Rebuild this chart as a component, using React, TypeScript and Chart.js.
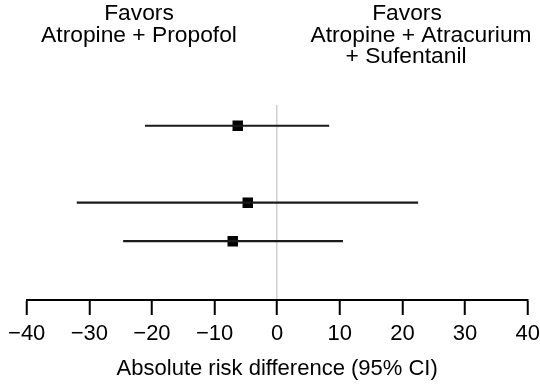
import React, { useEffect, useRef } from "react";
import { Chart, registerables } from "chart.js";

Chart.register(...registerables);

// ---- data ----
const studyRows = [1, 3, 4];
const estimates = [-6.3, -4.7, -7.1];
const lowerCI = [-21.1, -32.0, -24.6];
const upperCI = [8.3, 22.5, 10.5];
const xTicks = [-40, -30, -20, -10, 0, 10, 20, 30, 40];
const leftHeader = ["Favors", "Atropine + Propofol"];
const rightHeader = ["Favors", "Atropine + Atracurium", "+ Sufentanil"];
const axisTitle = "Absolute risk difference (95% CI)";

const FONT = '"Liberation Sans", Arial, Helvetica, sans-serif';

const headerPlugin = {
  id: "headers",
  afterDraw(chart: any) {
    const ctx = chart.ctx;
    ctx.save();
    ctx.font = `22.8px ${FONT}`;
    ctx.fillStyle = "#000";
    ctx.textAlign = "center";
    ctx.textBaseline = "alphabetic";
    const leftX = [139, 139];
    const rightX = [407, 421, 406];
    const baseY = [20, 42, 63];
    leftHeader.forEach((t, i) => ctx.fillText(t, leftX[i], baseY[i]));
    rightHeader.forEach((t, i) => ctx.fillText(t, rightX[i], baseY[i]));
    ctx.restore();
  },
};

export default function App() {
  const ref = useRef<HTMLCanvasElement>(null);
  useEffect(() => {
    document.body.style.margin = "0";
    const canvas = ref.current;
    if (!canvas) return;
    const ciSets = studyRows.map((r, i) => ({
      type: "line" as const,
      data: [
        { x: lowerCI[i], y: r },
        { x: upperCI[i], y: r },
      ],
      borderColor: "#1a1a1a",
      borderWidth: 2.2,
      pointRadius: 0,
      showLine: true,
      borderCapStyle: "butt",
    }));
    const chart = new Chart(canvas, {
      type: "scatter",
      data: {
        datasets: [
          ...ciSets,
          {
            type: "scatter",
            data: studyRows.map((r, i) => ({ x: estimates[i], y: r })),
            pointStyle: "rect",
            pointRadius: 7.4,
            backgroundColor: "#000",
            borderColor: "#000",
            borderWidth: 0,
          },
        ] as any,
      },
      options: {
        animation: false,
        responsive: false,
        events: [],
        layout: { padding: { left: 26.7, right: 12.3, top: 105, bottom: 0 } },
        plugins: { legend: { display: false }, tooltip: { enabled: false } },
        scales: {
          x: {
            type: "linear",
            min: -40,
            max: 40,
            afterBuildTicks: (scale: any) => {
              scale.ticks = xTicks.map((v) => ({ value: v }));
            },
            afterFit: (scale: any) => {
              scale.height = 90;
              scale.paddingLeft = 0;
              scale.paddingRight = 0;
            },
            border: { display: true, color: "#000", width: 2 },
            grid: {
              drawOnChartArea: true,
              drawTicks: true,
              color: (ctx: any) =>
                ctx.tick && ctx.tick.value === 0 ? "#cfcfcf" : "rgba(0,0,0,0)",
              lineWidth: 1.5,
              tickColor: "#000",
              tickWidth: 2,
              tickLength: 15,
            },
            ticks: {
              autoSkip: false,
              maxRotation: 0,
              minRotation: 0,
              padding: 6,
              color: "#000",
              font: { family: FONT, size: 22 },
              callback: (v: any) => String(v).replace("-", "\u2212"),
            },
            title: {
              display: true,
              text: axisTitle,
              color: "#000",
              font: { family: FONT, size: 22 },
              padding: { top: 0, bottom: 8 },
            },
          },
          y: {
            type: "linear",
            display: false,
            reverse: true,
            min: 0.46,
            max: 5.53,
          },
        },
      },
      plugins: [headerPlugin],
    } as any);
    return () => chart.destroy();
  }, []);
  return <canvas ref={ref} width={540} height={390} style={{ display: "block" }} />;
}
